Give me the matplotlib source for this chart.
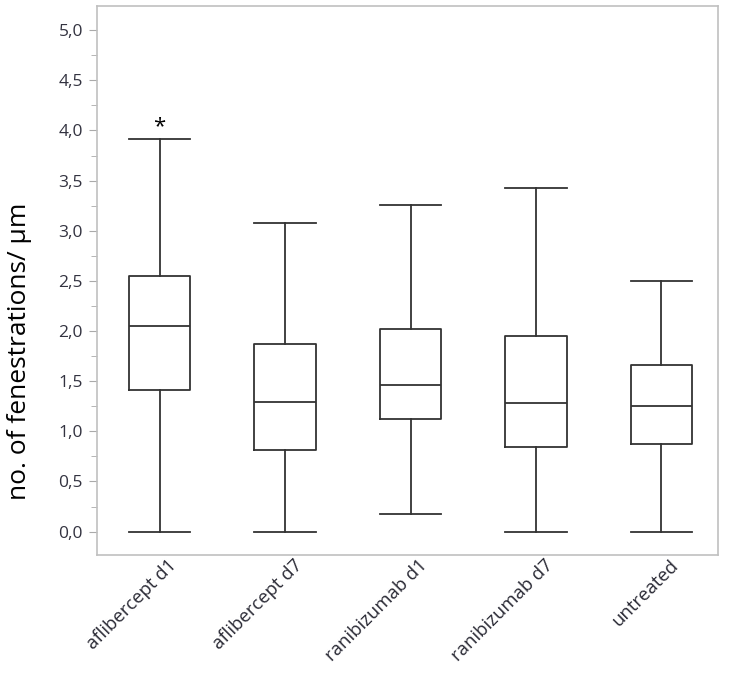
import matplotlib
matplotlib.use("Agg")
import matplotlib.pyplot as plt
from matplotlib.ticker import MultipleLocator, FuncFormatter
from matplotlib.transforms import ScaledTranslation

groups = ["aflibercept d1", "aflibercept d7", "ranibizumab d1", "ranibizumab d7", "untreated"]
whislo = [0.0, 0.0, 0.18, 0.0, 0.0]
q1 = [1.41, 0.81, 1.12, 0.84, 0.87]
med = [2.05, 1.29, 1.46, 1.28, 1.25]
q3 = [2.55, 1.87, 2.02, 1.95, 1.66]
whishi = [3.91, 3.08, 3.26, 3.43, 2.50]
marks = ["*", "", "", "", ""]

plt.rcParams['font.family'] = ['Open Sans', 'DejaVu Sans']

fig = plt.figure(figsize=(7.34, 6.74), dpi=100)
ax = fig.add_axes([0.132, 0.177, 0.846, 0.814])

stats = []
for i in range(len(groups)):
    stats.append(dict(label=groups[i], whislo=whislo[i], q1=q1[i], med=med[i],
                      q3=q3[i], whishi=whishi[i], fliers=[]))

lc = "#333333"
pos = list(range(len(groups)))
ax.bxp(stats, positions=pos, widths=0.49, capwidths=0.49, showfliers=False,
       boxprops=dict(color=lc, linewidth=1.3),
       whiskerprops=dict(color=lc, linewidth=1.3),
       capprops=dict(color=lc, linewidth=1.3),
       medianprops=dict(color=lc, linewidth=1.3))

for i, m in enumerate(marks):
    if m:
        ax.text(pos[i], whishi[i] + 0.02, m, ha="center", va="bottom", fontsize=16, color="black")

ax.set_xlim(-0.5, 4.45)
ax.set_ylim(-0.23, 5.24)
ax.yaxis.set_major_locator(MultipleLocator(0.5))
ax.yaxis.set_minor_locator(MultipleLocator(0.25))
ax.yaxis.set_major_formatter(FuncFormatter(lambda v, p: f"{v:.1f}".replace(".", ",")))

ax.set_xticks(pos)
ax.tick_params(axis="x", length=0, pad=1)
ax.tick_params(axis="y", which="major", length=6, color="#aaaaaa", labelsize=12.5, labelcolor="#333340", pad=4)
ax.tick_params(axis="y", which="minor", length=4, color="#aaaaaa")
ax.set_xticklabels(groups, rotation=45, ha="right", rotation_mode="anchor", fontsize=13.3, color="#2a2a35")
# nudge rotated labels to the right (after tick_params, which resets transforms)
shift = ScaledTranslation(8 / 100, 0, fig.dpi_scale_trans)
for lbl in ax.get_xticklabels():
    lbl.set_transform(lbl.get_transform() + shift)

for s in ax.spines.values():
    s.set_color("#c0c0c0")
    s.set_linewidth(1.2)

ax.set_ylabel("no. of fenestrations/ µm", fontsize=19, color="black")
ax.yaxis.set_label_coords(-0.105, 0.37)

fig.savefig("out.png", dpi=100)
